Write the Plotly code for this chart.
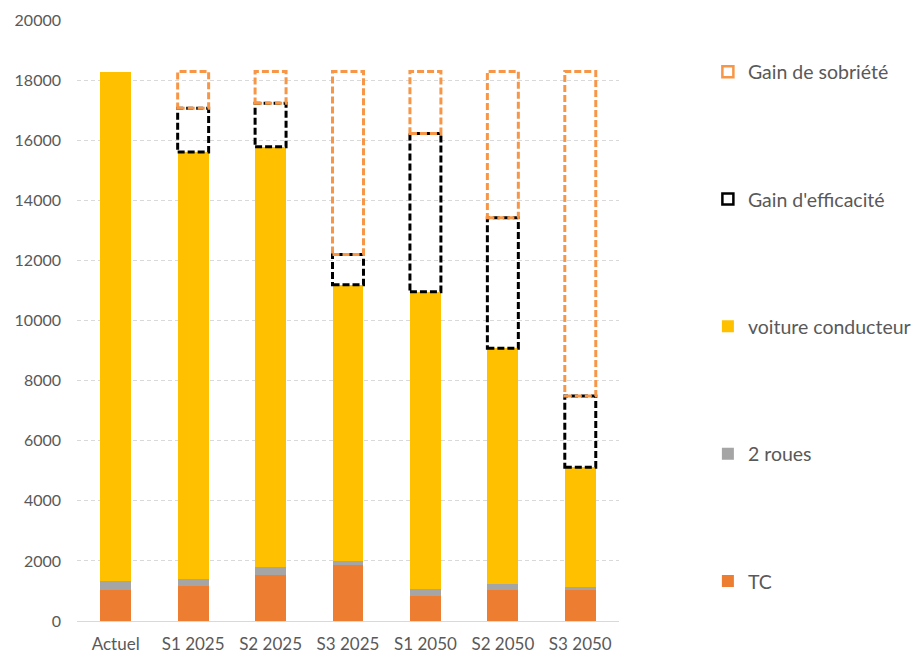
import plotly.graph_objects as go

categories = ["Actuel", "S1 2025", "S2 2025", "S3 2025", "S1 2050", "S2 2050", "S3 2050"]
tc = [1020, 1170, 1540, 1870, 840, 1040, 1040]
deux_roues = [310, 230, 260, 130, 210, 190, 80]
voiture = [16940, 14210, 13980, 9190, 9910, 7850, 4000]
gain_efficacite = [0, 1450, 1450, 1010, 5260, 4340, 2370]
gain_sobriete = [0, 1230, 1060, 6090, 2070, 4870, 10800]
y_ticks = [0, 2000, 4000, 6000, 8000, 10000, 12000, 14000, 16000, 18000, 20000]

FONT = "Lato"
TXT = "#595959"
C_TC = "#ED7D31"
C_2R = "#A5A5A5"
C_VO = "#FFC000"
C_SOB = "#F79646"
C_EFF = "#000000"
BAR_W = 0.4

x = list(range(len(categories)))
fig = go.Figure()
fig.add_trace(go.Bar(x=x, y=tc, name="TC", marker=dict(color=C_TC, line=dict(width=0)),
                     width=BAR_W, legendgroup="tc", legendrank=5))
fig.add_trace(go.Bar(x=x, y=deux_roues, name="2 roues", marker=dict(color=C_2R, line=dict(width=0)),
                     width=BAR_W, legendgroup="2r", legendrank=4))
fig.add_trace(go.Bar(x=x, y=voiture, name="voiture conducteur", marker=dict(color=C_VO, line=dict(width=0)),
                     width=BAR_W, legendgroup="vo", legendrank=3))
fig.add_trace(go.Bar(x=x, y=gain_efficacite, name="Gain d'efficacité", marker=dict(color="rgba(0,0,0,0)", line=dict(width=0)),
                     width=BAR_W, showlegend=False, hoverinfo="skip"))
fig.add_trace(go.Bar(x=x, y=gain_sobriete, name="Gain de sobriété", marker=dict(color="rgba(0,0,0,0)", line=dict(width=0)),
                     width=BAR_W, showlegend=False, hoverinfo="skip"))
# legend entries for the dashed outline series
fig.add_trace(go.Scatter(x=[None], y=[None], mode="markers", name="Gain d'efficacité", legendgroup="eff", legendrank=2,
                         marker=dict(symbol="square-open", size=11, color=C_EFF, line=dict(width=2.5, color=C_EFF))))
fig.add_trace(go.Scatter(x=[None], y=[None], mode="markers", name="Gain de sobriété", legendgroup="sob", legendrank=1,
                         marker=dict(symbol="square-open", size=11, color=C_SOB, line=dict(width=2.5, color=C_SOB))))

# dashed outlines for the gain segments, computed from the data
shapes = []
for i in x:
    base = tc[i] + deux_roues[i] + voiture[i]
    top_eff = base + gain_efficacite[i]
    top_sob = top_eff + gain_sobriete[i]
    if gain_efficacite[i] > 0:
        shapes.append(dict(type="rect", xref="x", yref="y", x0=i - BAR_W / 2, x1=i + BAR_W / 2,
                           y0=base, y1=top_eff, line=dict(color=C_EFF, width=3, dash="7px,3px"),
                           fillcolor="rgba(0,0,0,0)", layer="above"))
    if gain_sobriete[i] > 0:
        shapes.append(dict(type="rect", xref="x", yref="y", x0=i - BAR_W / 2, x1=i + BAR_W / 2,
                           y0=top_eff, y1=top_sob, line=dict(color=C_SOB, width=3, dash="7px,3px"),
                           fillcolor="rgba(0,0,0,0)", layer="above"))

# page body has an 8px default margin, so the figure is drawn 8px smaller
fig.update_layout(
    barmode="stack",
    width=911, height=645,
    margin=dict(l=69, r=300, t=12, b=32, autoexpand=False),
    paper_bgcolor="white", plot_bgcolor="white",
    font=dict(family=FONT, size=16, color=TXT),
    shapes=shapes,
    legend=dict(x=1.164, xanchor="left", y=0.946, yanchor="top", traceorder="grouped",
                tracegroupgap=99, font=dict(family=FONT, size=19.5, color=TXT),
                bgcolor="rgba(0,0,0,0)", itemclick=False),
    xaxis=dict(tickmode="array", tickvals=x, ticktext=categories, range=[-0.5, len(categories) - 0.5],
               showgrid=False, zeroline=False, showline=True, linecolor="#D9D9D9", linewidth=1,
               ticks="", ticklabelstandoff=8, automargin=False, tickfont=dict(size=17, color=TXT)),
    yaxis=dict(range=[0, 20000], tickmode="array", tickvals=y_ticks, ticktext=[str(v) for v in y_ticks],
               showgrid=True, gridcolor="#D9D9D9", griddash="4px,3px", gridwidth=1, zeroline=False,
               showline=False, ticks="", ticklabelstandoff=15, automargin=False,
               tickfont=dict(size=16, color=TXT)),
)

fig.write_html("out.html")
